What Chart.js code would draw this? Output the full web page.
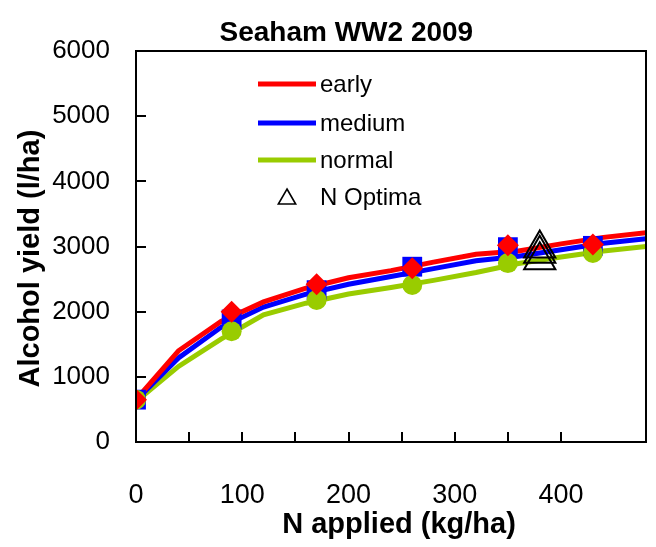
<!DOCTYPE html>
<html><head><meta charset="utf-8">
<script src="https://cdn.jsdelivr.net/npm/chart.js@4/dist/chart.umd.min.js"></script>
<style>html,body{margin:0;padding:0;background:#fff}#wrap{width:656px;height:547px}</style>
</head><body><div id="wrap"><canvas id="c" width="656" height="547"></canvas></div>
<script>
const FONT = "'Liberation Sans', Arial, sans-serif";

// fitted response curves
const nCurve      = [0, 40, 80, 120, 160, 200, 240, 280, 320, 360, 400, 440, 480];
const earlyCurve  = [650, 1400, 1850, 2150, 2360, 2520, 2630, 2760, 2880, 2930, 3040, 3140, 3210];
const mediumCurve = [640, 1290, 1760, 2070, 2270, 2420, 2540, 2660, 2780, 2850, 2950, 3050, 3120];
const normalCurve = [620, 1160, 1580, 1950, 2130, 2270, 2370, 2480, 2600, 2740, 2840, 2930, 3000];

// observed points
const nObs      = [0, 90, 170, 260, 350, 430];
const earlyObs  = [650, 2000, 2420, 2665, 3020, 3030];
const mediumObs = [650, 1880, 2330, 2690, 2990, 3010];
const normalObs = [650, 1700, 2180, 2410, 2745, 2900];

// N optima
const nOptX = [380, 380, 380];
const nOptY = [2970, 2890, 2790];

const xLabels = ['0', '100', '200', '300', '400'];
const seriesNames = ['early', 'medium', 'normal', 'N Optima'];
const NB = '\u00A0';

const pts = (xs, ys) => xs.map((x, i) => ({x, y: ys[i]}));

const lineDs = (label, xs, ys, color, order) => ({
  label, data: pts(xs, ys), borderColor: color, backgroundColor: color,
  borderWidth: 5, pointRadius: 0, tension: 0, fill: false, order, legendLine: true
});
const markDs = (xs, ys, color, style, r, order) => ({
  data: pts(xs, ys), showLine: false, pointStyle: style, pointRadius: r,
  pointBackgroundColor: color, pointBorderColor: color, pointBorderWidth: 0, order
});

const frame = {
  id: 'frame',
  afterDraw(chart) {
    const {ctx, chartArea: a, scales: {x, y}} = chart;
    ctx.save();
    ctx.strokeStyle = '#000';
    ctx.lineWidth = 2;
    ctx.strokeRect(a.left, a.top, a.right - a.left, a.bottom - a.top);
    ctx.beginPath();
    x.ticks.forEach(t => {
      if (t.value % 50 !== 0 || t.value === 0) return;
      const px = Math.round(x.getPixelForValue(t.value));
      ctx.moveTo(px, a.bottom); ctx.lineTo(px, a.bottom - 10);
    });
    y.ticks.forEach(t => {
      if (t.value === 0) return;
      const py = Math.round(y.getPixelForValue(t.value));
      ctx.moveTo(a.left, py); ctx.lineTo(a.left + 10, py);
    });
    ctx.stroke();

    // legend
    const lx = a.left + 122, tx = a.left + 184;
    const rows = [a.top + 33, a.top + 72, a.top + 109, a.top + 146];
    ctx.font = '24px ' + FONT;
    ctx.textBaseline = 'middle';
    ctx.textAlign = 'left';
    ctx.fillStyle = '#000';
    const items = chart.data.datasets.filter(d => d.legendLine);
    items.forEach((d, i) => {
      ctx.strokeStyle = d.borderColor;
      ctx.lineWidth = 5;
      ctx.beginPath(); ctx.moveTo(lx, rows[i]); ctx.lineTo(lx + 58, rows[i]); ctx.stroke();
      ctx.fillText(d.label, tx, rows[i] + 1);
    });
    ctx.strokeStyle = '#000';
    ctx.lineWidth = 1.6;
    ctx.fillStyle = 'rgba(0,0,0,0)';
    Chart.helpers.drawPoint(ctx, {pointStyle: 'triangle', radius: 10, borderWidth: 1.6, rotation: 0}, lx + 29, rows[3] + 2);
    ctx.fillStyle = '#000';
    ctx.fillText(seriesNames[3], tx, rows[3] + 1);
    ctx.restore();
  }
};

new Chart(document.getElementById('c'), {
  type: 'line',
  data: {
    datasets: [
      markDs(nObs, earlyObs, '#FF0000', 'rectRot', 11, 0),
      {
        label: seriesNames[3], data: pts(nOptX, nOptY), showLine: false, pointStyle: 'triangle',
        pointRadius: 18, pointBackgroundColor: 'rgba(0,0,0,0)', pointBorderColor: '#000', pointBorderWidth: 2, order: 1
      },
      markDs(nObs, normalObs, '#99CC00', 'circle', 10, 2),
      markDs(nObs, mediumObs, '#0000FF', 'rect', 14, 3),
      lineDs(seriesNames[0], nCurve, earlyCurve, '#FF0000', 4),
      lineDs(seriesNames[1], nCurve, mediumCurve, '#0000FF', 5),
      lineDs(seriesNames[2], nCurve, normalCurve, '#99CC00', 6)
    ]
  },
  options: {
    responsive: false, animation: false, devicePixelRatio: 1,
    layout: {autoPadding: false, padding: {left: 0, right: 10, top: 0, bottom: 0}},
    plugins: {
      legend: {display: false}, tooltip: {enabled: false},
      title: {display: true, text: NB.repeat(6) + 'Seaham WW2 2009', color: '#000',
        font: {family: FONT, size: 28, weight: 'bold'}, padding: {top: 16, bottom: 1.4}}
    },
    scales: {
      x: {
        type: 'linear', min: 0, max: 480,
        grid: {display: false}, border: {display: false},
        ticks: {stepSize: 50, autoSkip: false, maxRotation: 0, padding: 29, color: '#000',
          font: {family: FONT, size: 27},
          callback: v => (v % 100 === 0 ? xLabels[v / 100] : '')},
        title: {display: true, text: NB.repeat(2) + 'N applied (kg/ha)', color: '#000',
          font: {family: FONT, size: 29, weight: 'bold'}, padding: {top: 0, bottom: 5}},
        afterFit: s => { s.height = 105; s.paddingRight = 0; }
      },
      y: {
        min: 0, max: 6000,
        grid: {display: false, drawTicks: false}, border: {display: false},
        ticks: {stepSize: 1000, padding: 26, color: '#000', font: {family: FONT, size: 26},
          callback: v => String(v)},
        title: {display: true, text: 'Alcohol yield (l/ha)' + NB.repeat(3), color: '#000',
          font: {family: FONT, size: 29, weight: 'bold'}, padding: {top: 14, bottom: 0}},
        afterFit: s => { s.width = 136; }
      }
    }
  },
  plugins: [frame]
});
</script></body></html>
